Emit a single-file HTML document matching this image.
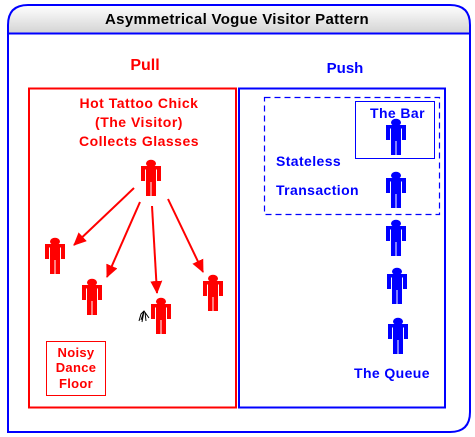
<!DOCTYPE html>
<html><head><meta charset="utf-8"><style>
html,body{margin:0;padding:0;background:#fff;}
svg{display:block;font-family:"Liberation Sans",Arial,sans-serif;font-weight:bold;}
</style></head><body>
<svg width="475" height="437" viewBox="0 0 475 437" xmlns="http://www.w3.org/2000/svg">
<defs>
<linearGradient id="hg" x1="0" y1="0" x2="0" y2="1">
<stop offset="0" stop-color="#ffffff"/><stop offset="1" stop-color="#d4d4d4"/>
</linearGradient>
<marker id="ar" markerWidth="14" markerHeight="14" refX="12" refY="6" orient="auto" markerUnits="userSpaceOnUse">
<path d="M0,0 L13,6 L0,12 z" fill="#f00"/>
</marker>
<g id="p">
<ellipse cx="12" cy="3.5" rx="5" ry="3.8"/>
<rect x="2" y="6" width="20" height="3.5"/>
<rect x="2" y="6" width="4" height="15"/>
<rect x="18" y="6" width="4" height="15"/>
<rect x="7" y="6" width="10" height="16"/>
<rect x="7" y="20" width="4.5" height="16"/>
<rect x="12.5" y="20" width="4.5" height="16"/>
</g>
</defs>
<path d="M8,33 L8,25 Q8,5 28,5 L450,5 Q470,5 470,25 L470,33 Z" fill="url(#hg)"/>
<path d="M8,432 L8,25 Q8,5 28,5 L450,5 Q470,5 470,25 L470,412 Q470,432 450,432 Z" fill="none" stroke="#00f" stroke-width="2"/>
<line x1="8" y1="33.5" x2="471" y2="33.5" stroke="#00f" stroke-width="2"/>
<text x="237" y="24" font-size="15" text-anchor="middle" fill="#000" letter-spacing="0.3">Asymmetrical Vogue Visitor Pattern</text>
<text x="145" y="70" font-size="16" text-anchor="middle" fill="#f00">Pull</text>
<text x="345" y="73" font-size="15" text-anchor="middle" fill="#00f">Push</text>
<rect x="29" y="88.5" width="207" height="319" fill="none" stroke="#f00" stroke-width="2"/>
<rect x="239" y="88.5" width="206" height="319" fill="none" stroke="#00f" stroke-width="2"/>
<g fill="#f00" font-size="14" text-anchor="middle" letter-spacing="0.5">
<text x="139" y="108">Hot  Tattoo Chick</text>
<text x="139" y="127">(The Visitor)</text>
<text x="139" y="146">Collects Glasses</text>
</g>
<g fill="#f00">
<use href="#p" x="139" y="160"/>
<use href="#p" x="43" y="238"/>
<use href="#p" x="80" y="279"/>
<use href="#p" x="149" y="298"/>
<use href="#p" x="201" y="275"/>
</g>
<g stroke="#f00" stroke-width="2" marker-end="url(#ar)">
<line x1="134" y1="188" x2="74" y2="245"/>
<line x1="140" y1="202" x2="107" y2="277"/>
<line x1="152" y1="206" x2="157" y2="293"/>
<line x1="168" y1="199" x2="203" y2="272"/>
</g>
<path d="M149,318 L144,311 L141,314 L139,321 M144,311 L142,322 M145,312 L146,321 M144,311 L141,320" stroke="#000" stroke-width="1" fill="none"/>
<rect x="46.5" y="341.5" width="59" height="54" fill="none" stroke="#f00" stroke-width="1"/>
<g fill="#f00" font-size="13" text-anchor="middle" letter-spacing="0.3">
<text x="76" y="357">Noisy</text>
<text x="76" y="372">Dance</text>
<text x="76" y="388">Floor</text>
</g>
<rect x="264.5" y="97.5" width="175" height="117" fill="none" stroke="#00f" stroke-width="1.2" stroke-dasharray="6,4"/>
<rect x="355.5" y="101.5" width="79" height="57" fill="none" stroke="#00f" stroke-width="1"/>
<g fill="#00f" font-size="14" letter-spacing="0.4">
<text x="370" y="118">The Bar</text>
<text x="276" y="166">Stateless</text>
<text x="276" y="195">Transaction</text>
<text x="354" y="378">The Queue</text>
</g>
<g fill="#00f">
<use href="#p" x="384" y="119"/>
<use href="#p" x="384" y="172"/>
<use href="#p" x="384" y="220"/>
<use href="#p" x="385" y="268"/>
<use href="#p" x="386" y="318"/>
</g>
</svg>
</body></html>
